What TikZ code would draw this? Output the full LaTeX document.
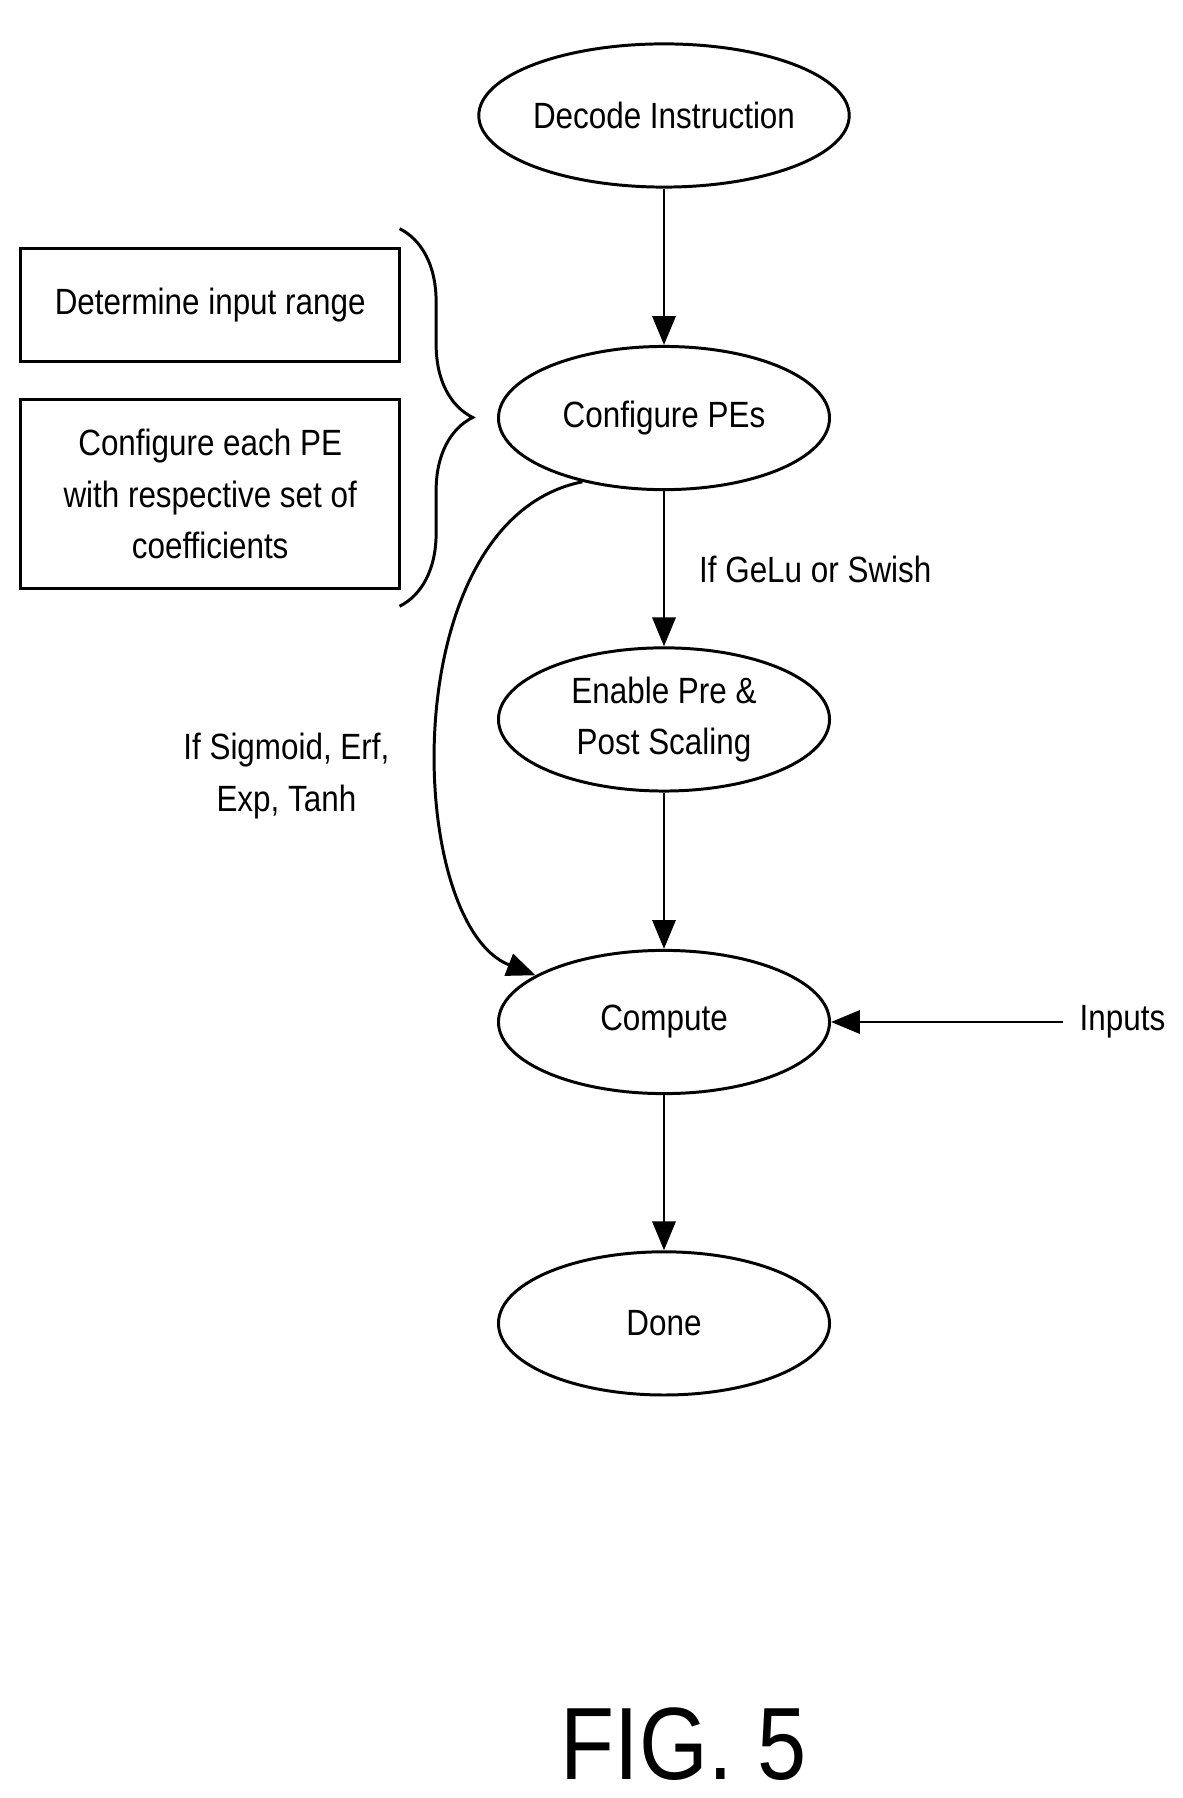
\documentclass[tikz,border=0pt]{standalone}
\usepackage{fontspec}
\setmainfont{Liberation Sans}[FakeStretch=0.86]
\usetikzlibrary{shapes.geometric,decorations.pathreplacing,arrows.meta}
\begin{document}
\begin{tikzpicture}[x=0.03cm,y=-0.03cm,line width=2.2pt,
  every node/.style={font=\fontsize{27}{38}\selectfont,align=center}]
        \tikzset{stage/.style = {ellipse,draw,minimum width=8.6cm,minimum height=3.72cm,inner sep=0pt}}
        \tikzset{task/.style = {draw,minimum width=9.84cm,inner sep=0pt}}
        \tikzset{edge/.style = {-{Triangle[length=0.75cm,width=0.6cm]}}}
        \useasboundingbox (0,0) rectangle (1024,1557);
        \node[stage] (DI) at (575,100) {Decode Instruction};
        \node[stage] (CP) at (575,362) {Configure PEs};
        \node[stage] (EP) at (575,623) {Enable Pre \&\\Post Scaling};
        \node[stage] (CO) at (575,885) {Compute};
        \node[stage] (DN) at (575,1146) {Done};
        \node[task,minimum height=2.94cm] (IR) at (182,264) {Determine input range};
        \node[task,minimum height=4.92cm] (PE) at (182,428) {Configure each PE\\with respective set of\\coefficients};
        \node[inner sep=0.4cm] (IN) at (972,885) {Inputs};
        \node (GL) at (706,493) {If GeLu or Swish};
        \node (SG) at (248,672) {If Sigmoid, Erf,\\Exp, Tanh};
        \node[font=\fontsize{76}{86}\selectfont] (FG) at (592,1510) {FIG. 5};

        \draw[decorate,decoration={brace,amplitude=1.9cm,aspect=0.5}] (346,198) -- (346,525);

        \draw[edge] (DI) to (CP);
        \draw[edge] (CP) to (EP);
        \draw[edge] (EP) to (CO);
        \draw[edge] (CO) to (DN);
        \draw[edge] (IN) to (CO);
        \draw[edge] (CP.218) .. controls (340,450) and (350,800) .. (CO.160);
\end{tikzpicture}
\end{document}
